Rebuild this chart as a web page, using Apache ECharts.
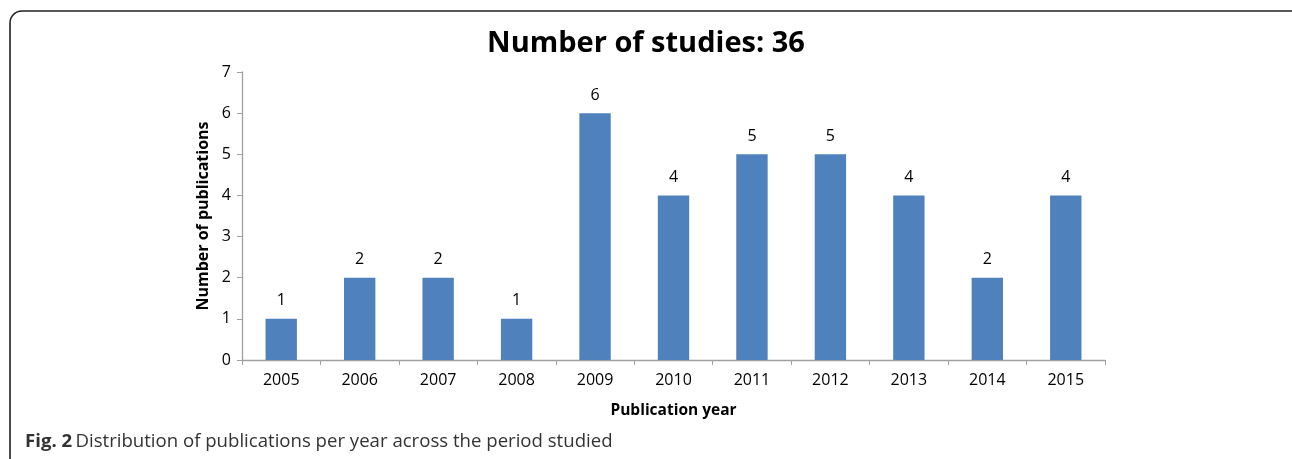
<!DOCTYPE html>
<html><head><meta charset="utf-8">
<script src="https://cdn.jsdelivr.net/npm/echarts@6/dist/echarts.min.js"></script>
<style>html,body{margin:0;padding:0;background:#fff;}#c{width:1292px;height:459px;}</style>
</head><body><div id="c"></div>
<script>
const years = ['2005','2006','2007','2008','2009','2010','2011','2012','2013','2014','2015'];
const publications = [1,2,2,1,6,4,5,5,4,2,4];
const yTicks = [0,1,2,3,4,5,6,7];
const titleText = 'Number of studies: 36';
const yName = 'Number of publications';
const xName = 'Publication year';

const chart = echarts.init(document.getElementById('c'), null, {renderer:'canvas'});
const F = '"Open Sans", sans-serif';
chart.setOption({
  animation:false,
  title:{text:titleText,left:'center',top:24,textStyle:{fontFamily:F,fontWeight:'bold',fontSize:29,color:'#000'}},
  grid:{left:242,right:187,top:72,bottom:99,containLabel:false},
  graphic:[
    {type:'rect',shape:{x:10,y:11,width:1300,height:470,r:12},style:{fill:'none',stroke:'#222',lineWidth:1.6},silent:true},
    {type:'text',left:25,top:432,style:{rich:{b:{fontFamily:F,fontWeight:'bold',fontSize:18.6,fill:'#333'},n:{fontFamily:F,fontSize:18.6,fill:'#333'}},text:'{b|Fig. 2} {n|Distribution of publications per year across the period studied}'}}
  ],
  xAxis:{type:'category',data:years,
    name:xName,nameLocation:'middle',nameGap:43,
    nameTextStyle:{fontFamily:F,fontWeight:'bold',fontSize:15.5,color:'#000'},
    axisLine:{lineStyle:{color:'#a0a0a0',width:1.3}},
    axisTick:{show:true,length:5,lineStyle:{color:'#a0a0a0'}},
    axisLabel:{fontFamily:F,fontSize:16,color:'#000',margin:12}},
  yAxis:{type:'value',min:0,max:7,interval:1,
    name:yName,nameLocation:'middle',nameGap:30,
    nameTextStyle:{fontFamily:F,fontWeight:'bold',fontSize:16,color:'#000'},
    axisLine:{show:true,lineStyle:{color:'#a0a0a0',width:1.3}},
    axisTick:{show:true,length:5,lineStyle:{color:'#a0a0a0'}},
    splitLine:{show:false},
    axisLabel:{fontFamily:F,fontSize:16,color:'#000',margin:11,formatter:v=>yTicks.includes(v)?String(v):''}},
  series:[{type:'bar',data:publications,barCategoryGap:'60%',
    itemStyle:{color:'#4f81bd'},
    label:{show:true,position:'top',distance:10,fontFamily:F,fontSize:16,color:'#000'}}]
});
</script></body></html>
